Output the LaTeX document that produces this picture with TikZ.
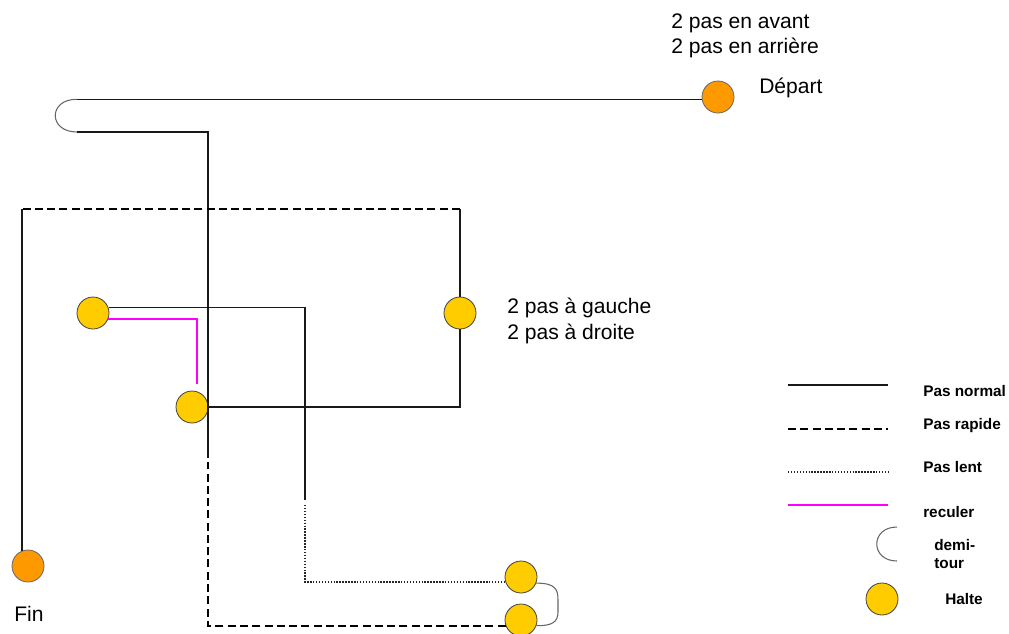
\documentclass[tikz,border=0pt]{standalone}
\usepackage{fontspec}
\setmainfont{Liberation Sans}
\definecolor{haltecol}{HTML}{FFCC00}
\definecolor{endcol}{HTML}{FF9900}
\definecolor{magentacol}{HTML}{FF00FF}
\begin{document}
\begin{tikzpicture}[x=0.75pt,y=-0.75pt,
  halte/.style={circle,minimum size=24pt,inner sep=0pt,fill=haltecol,draw=black!75,line width=0.6pt},
  ends/.style={circle,minimum size=24pt,inner sep=0pt,fill=endcol,draw=black!60,line width=0.6pt},
  normal/.style={line width=0.8pt,black!90},
  rapide/.style={line width=1.4pt,black,dash pattern=on 6pt off 3.2pt},
  lent/.style={line width=1.3pt,black!85,dash pattern=on 1.1pt off 1.1pt},
  recul/.style={line width=1.5pt,magentacol},
  demi/.style={line width=0.8pt,black!60},
  lbl/.style={font=\fontsize{15.8}{19}\selectfont,anchor=base west,inner sep=0pt},
  leg/.style={font=\bfseries\fontsize{11.5}{14}\selectfont,anchor=base west,inner sep=0pt}]
\useasboundingbox (0,0) rectangle (1009,633);

% stops
\node[ends] (dep) at (718,97) {};
\node[ends] (fin) at (28,566) {};
\node[halte] (h1) at (93,313) {};
\node[halte] (h2) at (192,407) {};
\node[halte] (h3) at (460,313) {};
\node[halte] (h4) at (521,577) {};
\node[halte] (h5) at (521,620) {};

% corner coordinates
\coordinate (u2) at (77,132);
\coordinate (u1) at (u2 |- dep.188);
\coordinate (c1) at (208,132);
\coordinate (c2) at (208,458);
\coordinate (c3) at (460,407);
\coordinate (c4) at (460,209);
\coordinate (c5) at (22,209);
\coordinate (c6) at (22,551);
\coordinate (c8) at (305,500);
\coordinate (c7) at (c8 |- h1.18);
\coordinate (c9) at (305,505);
\coordinate (c10) at (c9 |- h4.198);
\coordinate (c12) at (197,384);
\coordinate (c11) at (c12 |- h1.-22);
\coordinate (c14) at (208,462);
\coordinate (c13) at (c14 |- h5.200);

% route
\draw[normal] (dep.188) -- (u1);
\draw[demi] (u1) .. controls (48,99) and (48,132) .. (u2);
\draw[normal] (u2) -- (c1) -- (c2);
\draw[normal] (h2.east) -- (c3) -- (h3);
\draw[normal] (h3) -- (c4);
\draw[rapide] (c4) -- (c5);
\draw[normal] (c5) -- (c6);
\draw[normal] (h1.18) -- (c7) -- (c8);
\draw[lent] (c9) -- (c10) -- (h4.198);
\draw[recul] (h1.-22) -- (c11) -- (c12);
\draw[demi] (h4.-22) .. controls (556,583) and (558,590) .. (558,600)
  -- (558,612) .. controls (558,622) and (552,626) .. (h5.-20);
\draw[rapide] (h5.200) -- (c13) -- (c14);

% labels
\node[lbl] (t1) at (671,28) {2 pas en avant};
\node[lbl] (t2) at (671,53) {2 pas en arrière};
\node[lbl] (t3) at (759,93) {Départ};
\node[lbl] (t4) at (507,313) {2 pas à gauche};
\node[lbl] (t5) at (507,339) {2 pas à droite};
\node[lbl] (t6) at (14,621) {Fin};

% legend
\coordinate (l1a) at (788,385); \coordinate (l1b) at (888,385);
\coordinate (l2a) at (788,429); \coordinate (l2b) at (888,429);
\coordinate (l3a) at (788,472); \coordinate (l3b) at (888,472);
\coordinate (l4a) at (788,505); \coordinate (l4b) at (888,505);
\coordinate (l5a) at (897,527); \coordinate (l5b) at (897,561);
\draw[normal] (l1a) -- (l1b);
\draw[rapide] (l2a) -- (l2b);
\draw[lent] (l3a) -- (l3b);
\draw[recul] (l4a) -- (l4b);
\draw[demi] (l5a) .. controls (870,527) and (870,561) .. (l5b);
\node[halte] (lh) at (882,599) {};
\node[leg] (g1) at (923,396) {Pas normal};
\node[leg] (g2) at (923,429) {Pas rapide};
\node[leg] (g3) at (923,472) {Pas lent};
\node[leg] (g4) at (923,517) {reculer};
\node[leg] (g5) at (934,550) {demi-};
\node[leg] (g6) at (934,568) {tour};
\node[leg] (g7) at (945,604) {Halte};
\end{tikzpicture}
\end{document}
